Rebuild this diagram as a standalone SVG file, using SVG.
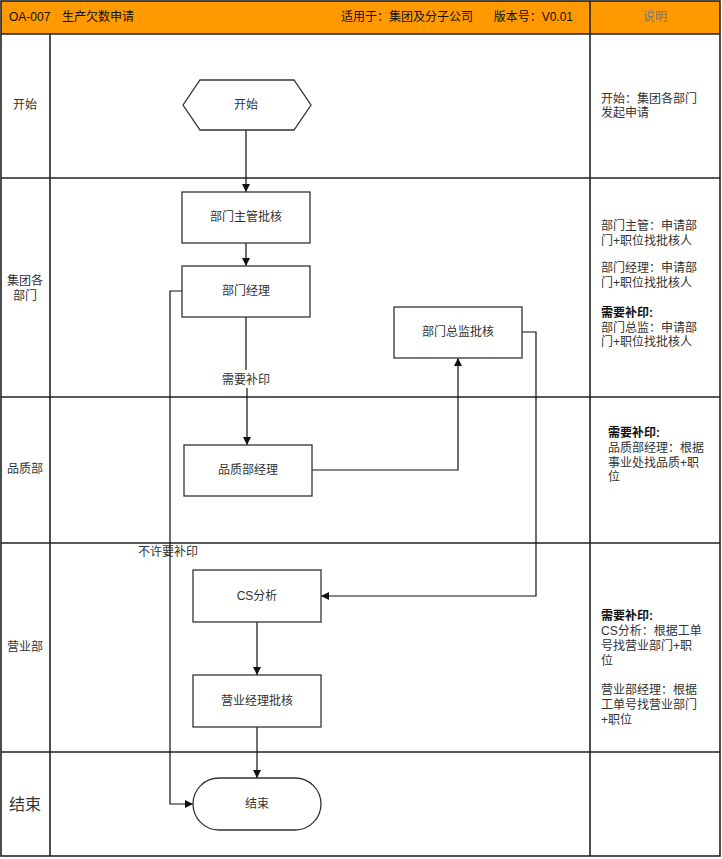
<svg xmlns="http://www.w3.org/2000/svg" width="722" height="859" viewBox="0 0 722 859">
<style>
text{font-family:"Liberation Sans","Noto Sans CJK SC",sans-serif;font-size:12px;fill:#333}
.c{text-anchor:middle}
.n{fill:#fff;stroke:#333;stroke-width:1.3}
.g{stroke:#222;stroke-width:1.6;fill:none}
.e{stroke:#111;stroke-width:1.2;fill:none}
.b{font-weight:bold;fill:#111}
</style>
<defs>
<marker id="a" viewBox="0 0 10 10" refX="10" refY="5" markerWidth="8" markerHeight="8" markerUnits="userSpaceOnUse" orient="auto"><path d="M0,0L10,5L0,10z" fill="#111"/></marker>
</defs>
<g id="frame">
<rect x="1" y="1" width="719" height="33" fill="#FF9900"/>
<rect x="1" y="1" width="719" height="855" class="g"/>
<line x1="1" y1="34" x2="720" y2="34" class="g"/>
<line x1="590" y1="1" x2="590" y2="856" class="g"/>
<line x1="50" y1="34" x2="50" y2="856" class="g"/>
<line x1="1" y1="178" x2="720" y2="178" class="g" stroke-width="2"/>
<line x1="1" y1="397" x2="720" y2="397" class="g"/>
<line x1="1" y1="543" x2="720" y2="543" class="g"/>
<line x1="1" y1="752" x2="720" y2="752" class="g"/>
<text x="9" y="21" style="fill:#111">OA-007</text>
<text x="62" y="21" style="fill:#111">生产欠数申请</text>
<text x="341" y="21" style="fill:#111">适用于：集团及分子公司</text>
<text x="573" y="21" text-anchor="end" style="fill:#111">版本号：V0.01</text>
<text x="655" y="21" class="c" style="fill:#777">说明</text>
</g>
<g id="lanes">
<text x="25" y="109" class="c">开始</text>
<text x="25" y="285" class="c">集团各</text>
<text x="25" y="300" class="c">部门</text>
<text x="25" y="473" class="c">品质部</text>
<text x="25" y="651" class="c">营业部</text>
<text x="25" y="810" class="c" style="font-size:16px">结束</text>
</g>
<g id="connectors">
<path d="M246,130V192" class="e" marker-end="url(#a)"/>
<path d="M246,243V266" class="e" marker-end="url(#a)"/>
<path d="M246,317V370M247,388V445" class="e" marker-end="url(#a)"/>
<text x="246" y="384" class="c">需要补印</text>
<path d="M182,291H170V804H193" class="e" marker-end="url(#a)"/>
<text x="168" y="556" class="c">不许要补印</text>
<path d="M312,470H458V358" class="e" marker-end="url(#a)"/>
<path d="M522,332H536V596H321" class="e" marker-end="url(#a)"/>
<path d="M257,622V675" class="e" marker-end="url(#a)"/>
<path d="M257,727V778" class="e" marker-end="url(#a)"/>
</g>
<g id="start"><path d="M183,105L200,80H294L311,105L294,130H200Z" class="n"/><text x="246" y="109" class="c">开始</text></g>
<g id="n1"><rect x="182" y="192" width="128" height="51" class="n"/><text x="246" y="221" class="c">部门主管批核</text></g>
<g id="n2"><rect x="182" y="266" width="128" height="51" class="n"/><text x="246" y="295" class="c">部门经理</text></g>
<g id="n3"><rect x="394" y="307" width="128" height="51" class="n"/><text x="458" y="336" class="c">部门总监批核</text></g>
<g id="n4"><rect x="184" y="445" width="128" height="51" class="n"/><text x="248" y="474" class="c">品质部经理</text></g>
<g id="n5"><rect x="193" y="570" width="128" height="52" class="n"/><text x="257" y="600" class="c">CS分析</text></g>
<g id="n6"><rect x="193" y="675" width="128" height="52" class="n"/><text x="257" y="705" class="c">营业经理批核</text></g>
<g id="end"><rect x="193" y="778" width="128" height="52" rx="26" class="n"/><text x="257" y="808" class="c">结束</text></g>
<g id="notes">
<text x="601" y="103">开始：集团各部门</text>
<text x="601" y="117">发起申请</text>
<text x="601" y="230">部门主管：申请部</text>
<text x="601" y="245">门+职位找批核人</text>
<text x="601" y="272">部门经理：申请部</text>
<text x="601" y="287">门+职位找批核人</text>
<text x="601" y="317" class="b">需要补印:</text>
<text x="601" y="332">部门总监：申请部</text>
<text x="601" y="346">门+职位找批核人</text>
<text x="608" y="437" class="b">需要补印:</text>
<text x="608" y="452">品质部经理：根据</text>
<text x="608" y="467">事业处找品质+职</text>
<text x="608" y="481">位</text>
<text x="601" y="620" class="b">需要补印:</text>
<text x="601" y="635">CS分析：根据工单</text>
<text x="601" y="650">号找营业部门+职</text>
<text x="601" y="665">位</text>
<text x="601" y="694">营业部经理：根据</text>
<text x="601" y="709">工单号找营业部门</text>
<text x="601" y="724">+职位</text>
</g>
</svg>
